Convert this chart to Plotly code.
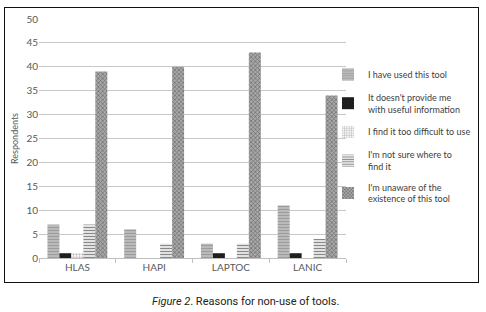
import plotly.graph_objects as go

categories = ["HLAS", "HAPI", "LAPTOC", "LANIC"]
series_names = [
    "I have used this tool",
    "It doesn't provide me<br>with useful information",
    "I find it too difficult to use",
    "I'm not sure where to<br>find it",
    "I'm unaware of the<br>existence of this tool",
]
used = [7, 6, 3, 11]
not_useful = [1, 0, 1, 1]
too_difficult = [1, 0, 0, 0]
not_sure = [7, 3, 3, 4]
unaware = [39, 40, 43, 34]
values = [used, not_useful, too_difficult, not_sure, unaware]

styles = [
    dict(color="#c8c8c8", pattern=dict(shape="-", fgcolor="#6f6f6f", size=3, solidity=0.55)),
    dict(color="#1a1a1a", pattern=dict(shape="x", fgcolor="#5a5a5a", size=3, solidity=0.2)),
    dict(color="#ffffff", pattern=dict(shape=".", fgcolor="#7a7a7a", size=3, solidity=0.45)),
    dict(color="#ffffff", pattern=dict(shape="-", fgcolor="#111111", size=3, solidity=0.5)),
    dict(color="#a8a8a8", pattern=dict(shape="x", fgcolor="#3a3a3a", size=3, solidity=0.45)),
]

W, H = 486, 312
L, R, T, B = 39, 4, 19, 54
PW = W - L - R
PH = H - T - B
plot_right = 346

def px(xpix):
    return (xpix - L) / PW

def py(ypix):
    return (H - B - ypix) / PH

fig = go.Figure()
for name, vals, st in zip(series_names, values, styles):
    fig.add_trace(go.Bar(
        x=categories, y=vals, name=name,
        marker=dict(color=st["color"], pattern=st["pattern"], line=dict(width=0)),
        legendgroup=name,
    ))

fig.update_layout(
    width=W, height=H,
    margin=dict(l=L, r=R, t=T, b=B, autoexpand=False),
    paper_bgcolor="white", plot_bgcolor="white",
    barmode="group", bargap=0.22, bargroupgap=0,
    font=dict(family="Lato, Open Sans, DejaVu Sans", size=10, color="#595959"),
    showlegend=True,
    legend=dict(
        x=px(328), y=py(60), xanchor="left", yanchor="top",
        font=dict(family="Lato, Open Sans, DejaVu Sans", size=9, color="#404040"),
        tracegroupgap=6, itemwidth=30, bgcolor="rgba(0,0,0,0)",
    ),
    xaxis=dict(
        domain=[0, px(plot_right)],
        showline=True, linecolor="#bfbfbf", linewidth=1,
        ticks="outside", tickson="boundaries", ticklen=4, tickcolor="#bfbfbf",
        tickfont=dict(size=10, color="#595959"),
    ),
    yaxis=dict(
        range=[0, 50], dtick=5, showgrid=True, gridcolor="#c8c8c8", gridwidth=1,
        zeroline=False, showline=False,
        tickfont=dict(size=10, color="#595959"),
        title=dict(text="Respondents", font=dict(size=9, color="#595959"), standoff=6),
    ),
    annotations=[
        dict(
            xref="paper", yref="paper", x=px(245), y=py(301),
            xanchor="center", yanchor="middle", showarrow=False,
            text="<i>Figure 2</i>. Reasons for non-use of tools.",
            font=dict(family="Liberation Sans Narrow, Roboto, Liberation Sans", size=11, color="#222222"),
        ),
    ],
)

# outer frame of the chart box (decoration) + remove default page margin
js = """
document.body.style.margin = '0';
var frame = document.createElement('div');
frame.style.cssText = 'position:absolute;left:4px;top:7px;width:475px;height:276px;box-sizing:border-box;border:1.5px solid #111;pointer-events:none;';
document.body.appendChild(frame);
"""
fig.write_html("out.html", config={"displayModeBar": False}, post_script=js)
